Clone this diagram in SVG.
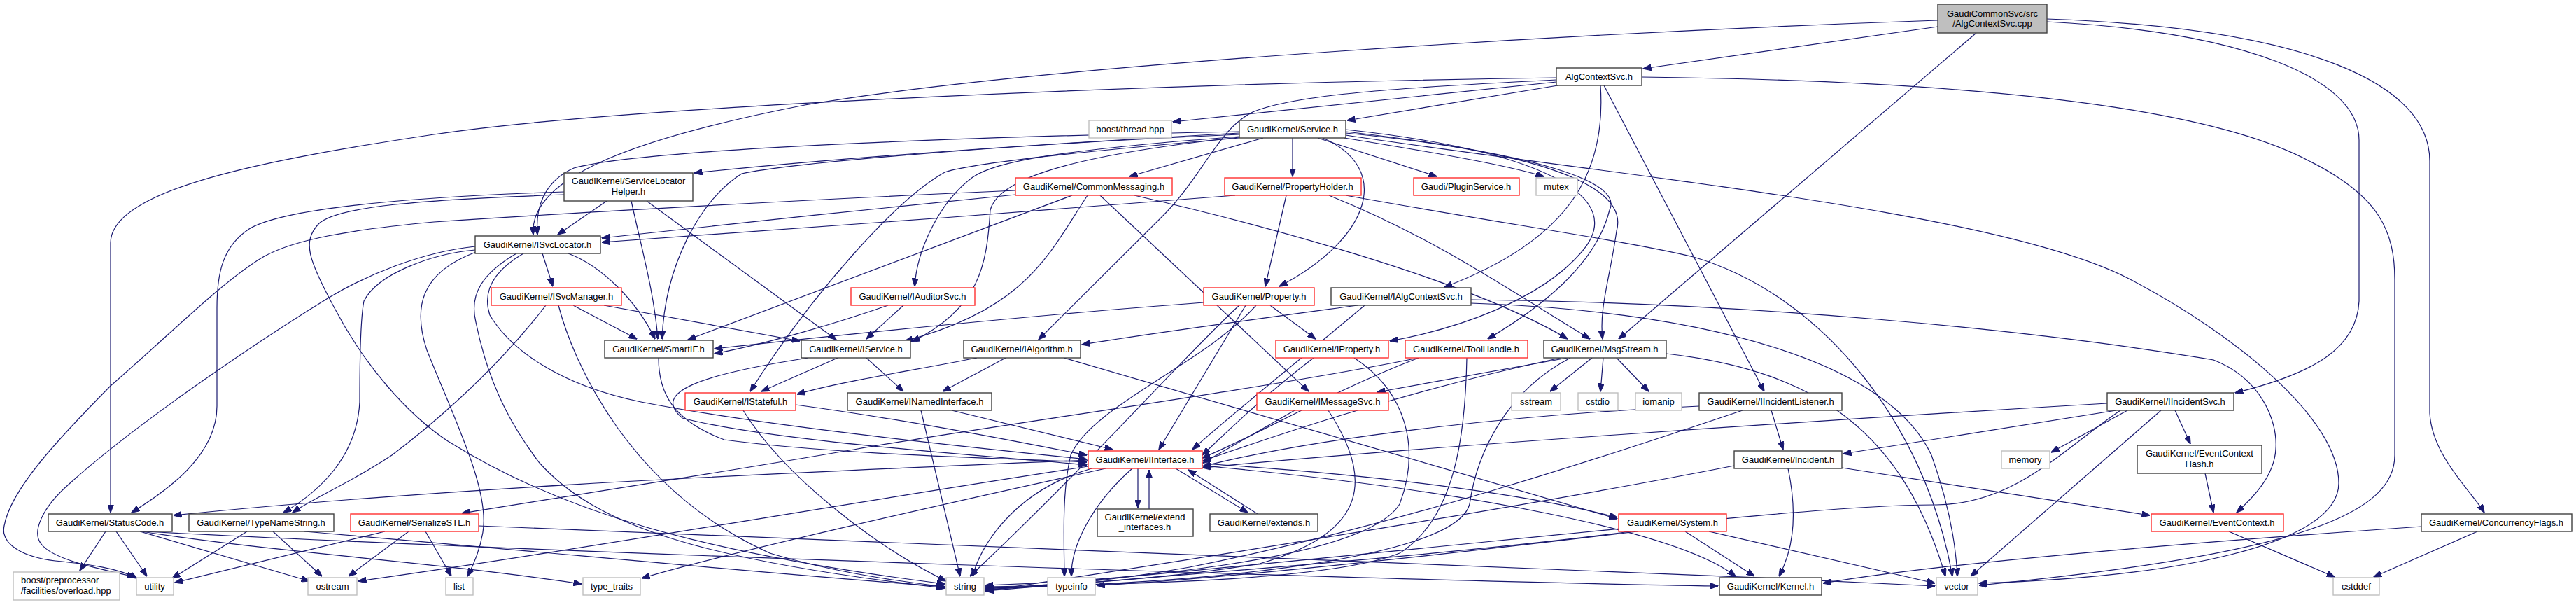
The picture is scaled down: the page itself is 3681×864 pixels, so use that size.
<svg xmlns="http://www.w3.org/2000/svg" width="3681" height="864" viewBox="0 0 3681 864">
<style>
.n rect{fill:#fff;stroke:#404040;stroke-width:1.4}
.r rect{stroke:#ff3030}
.g rect{stroke:#bfbfbf}
.m rect{fill:#bfbfbf;stroke:#404040}
text{font-family:"Liberation Sans",Arial,sans-serif;font-size:13px;text-anchor:middle;fill:#000}
.l text{text-anchor:start}
#edges path{fill:none;stroke:#191970;stroke-width:1.2;marker-end:url(#a)}
</style>
<defs>
<marker id="a" markerWidth="12" markerHeight="9" refX="11.5" refY="4.5" orient="auto" markerUnits="userSpaceOnUse"><path d="M0,0 L12,4.5 L0,9 z" fill="#191970" stroke="#191970"/></marker>
</defs>
<rect width="3681" height="864" fill="#fff"/>
<g id="edges">
<path d="M2769,38 L2348,98"/>
<path d="M2769,29 C2300,45 1500,90 1150,150 C920,195 755,250 762,335"/>
<path d="M2824,47 L2313,484"/>
<path d="M2925,31 C3200,45 3371,110 3371,200 L3371,430 C3368,500 3300,535 3194,561"/>
<path d="M2925,27 C3300,40 3472,120 3472,230 L3472,590 C3475,650 3530,700 3550,732"/>
<path d="M2226,122 L1925,172"/>
<path d="M2224,117 L1676,174"/>
<path d="M2224,111 C1700,118 900,150 620,192 C380,228 158,270 158,347 L158,732"/>
<path d="M2287,122 C2295,240 2250,340 2064,410"/>
<path d="M2292,122 L2521,559"/>
<path d="M2346,110 C2800,115 3150,150 3300,230 C3400,280 3422,330 3422,400 L3422,650 C3422,730 3300,790 2828,836"/>
<path d="M2224,114 C2000,125 1850,135 1790,160 C1740,185 1720,250 1660,310 L1484,485"/>
<path d="M1847,197 L1847,252"/>
<path d="M1883,197 L2053,252"/>
<path d="M1921,197 C2050,218 2150,235 2206,252"/>
<path d="M1890,197 C1990,240 1960,340 1828,409"/>
<path d="M1805,197 L1614,252"/>
<path d="M1771,190 C1500,205 1200,225 992,247"/>
<path d="M1771,188 C1400,195 920,212 820,240 C775,260 765,300 768,335"/>
<path d="M1771,192 C1400,208 1120,235 1060,248 C1000,285 950,380 946,484"/>
<path d="M1771,195 C1500,215 1420,232 1390,253 C1340,290 1310,360 1307,409"/>
<path d="M1771,196 C1500,225 1425,262 1415,300 C1410,380 1400,440 1303,488"/>
<path d="M1771,197 C1500,220 1380,236 1350,246 C1280,285 1160,420 1072,559"/>
<path d="M1923,185 C2200,215 2330,280 2260,360 C2200,430 2080,470 1986,487"/>
<path d="M1923,188 C2200,220 2320,260 2300,300 C2280,380 2200,440 2126,484"/>
<path d="M1923,190 C2180,215 2330,260 2310,330 C2300,400 2285,440 2290,484"/>
<path d="M1923,193 C2300,250 2850,300 3040,397 C3200,480 3342,600 3342,690 C3342,780 3100,825 2828,833"/>
<path d="M867,287 L797,335"/>
<path d="M806,274 C560,282 400,300 356,327 C318,352 310,390 310,440 L310,580 C310,650 240,700 188,732"/>
<path d="M806,278 C600,285 480,295 455,320 C432,345 440,370 478,440 C520,520 580,590 640,630 C800,730 1000,790 1350,834"/>
<path d="M902,287 C918,360 935,420 940,484"/>
<path d="M924,287 L1195,485"/>
<path d="M1451,272 C1150,285 800,305 620,317 C500,328 420,342 376,367 C320,400 240,480 158,551 C80,630 15,700 6,751 C0,778 35,796 79,801 C130,806 170,812 196,826"/>
<path d="M1532,279 L983,485"/>
<path d="M1554,279 C1500,360 1470,440 1293,487"/>
<path d="M1572,279 L1870,559"/>
<path d="M1621,279 C1800,320 2100,400 2240,484"/>
<path d="M1451,278 C1300,292 1000,325 860,340"/>
<path d="M1838,279 L1808,409"/>
<path d="M1765,279 C1500,300 1100,330 860,346"/>
<path d="M1899,279 C2050,340 2150,410 2272,484"/>
<path d="M1923,279 C2150,320 2330,345 2420,367 C2600,420 2750,600 2790,823"/>
<path d="M775,362 L790,409"/>
<path d="M812,362 C860,380 910,430 936,484"/>
<path d="M679,357 C620,362 540,390 520,430 C514,460 514,540 514,574 C510,650 460,700 405,732"/>
<path d="M680,360 C600,390 590,440 610,500 C650,600 700,700 690,760 C685,790 675,810 668,823"/>
<path d="M679,352 C600,360 520,395 470,425 C380,480 200,600 99,691 C60,725 45,760 59,777 C75,798 130,810 193,824"/>
<path d="M738,362 C690,390 670,420 680,460 C700,560 740,620 770,660 C850,750 1000,800 1350,840"/>
<path d="M748,362 C700,390 690,420 700,450 C730,500 800,550 916,574 C1100,610 1400,640 1553,656"/>
<path d="M819,436 L910,484"/>
<path d="M780,436 C700,540 600,620 560,650 C500,690 450,710 418,732"/>
<path d="M863,436 L1143,487"/>
<path d="M798,436 C820,520 900,700 1100,790 C1200,820 1300,832 1350,838"/>
<path d="M1291,436 L1238,484"/>
<path d="M1269,436 C1200,460 1100,490 1021,505"/>
<path d="M1815,436 L1880,484"/>
<path d="M1720,432 C1500,448 1200,478 1021,498"/>
<path d="M1771,436 C1700,500 1560,660 1386,823"/>
<path d="M1780,436 L1656,642"/>
<path d="M1795,436 C1720,520 1560,580 1530,650 C1518,700 1520,760 1521,823"/>
<path d="M1940,436 C1800,455 1650,475 1546,492"/>
<path d="M1950,436 C1850,520 1750,600 1704,642"/>
<path d="M2102,428 C2500,432 2900,470 3163,514 C3230,540 3255,600 3252,641 C3250,680 3220,710 3196,732"/>
<path d="M2102,433 C2450,445 2700,520 2760,650 C2785,720 2795,780 2797,823"/>
<path d="M941,511 C941,560 960,600 1035,628 C1200,650 1450,655 1553,660"/>
<path d="M1197,511 L1088,559"/>
<path d="M1238,511 L1291,559"/>
<path d="M1155,511 C1000,535 930,560 975,597 C1100,630 1400,650 1553,664"/>
<path d="M1437,511 L1347,559"/>
<path d="M1396,511 C1300,530 1200,545 1139,563"/>
<path d="M1520,511 L2311,741"/>
<path d="M1877,511 C1800,570 1750,620 1718,650"/>
<path d="M1935,511 C2010,560 2030,640 2000,720 C1950,800 1600,830 1408,836"/>
<path d="M2027,511 C1900,560 1800,620 1718,654"/>
<path d="M2096,511 C2094,620 2080,740 2000,790 C1900,830 1600,835 1408,838"/>
<path d="M2027,511 C1800,557 1400,610 1220,642 C1000,680 800,710 660,733"/>
<path d="M2275,511 L2215,559"/>
<path d="M2291,511 L2287,559"/>
<path d="M2310,511 L2356,559"/>
<path d="M2240,511 L1968,560"/>
<path d="M2230,511 C2000,560 1800,630 1719,658"/>
<path d="M2244,511 C2150,560 2110,650 2100,720 C2080,800 1700,835 1408,840"/>
<path d="M2381,505 C2600,530 2720,620 2780,823"/>
<path d="M1850,586 L1719,661"/>
<path d="M1898,586 C1960,680 1960,760 1800,805 C1650,830 1500,835 1408,841"/>
<path d="M1137,578 C1300,600 1450,630 1553,650"/>
<path d="M1062,586 C1120,680 1250,780 1352,830"/>
<path d="M1360,586 L1590,642"/>
<path d="M1316,586 L1372,823"/>
<path d="M2428,580 C2200,590 1900,620 1719,666"/>
<path d="M2531,586 L2548,642"/>
<path d="M2490,586 C2300,650 2000,750 1700,810 C1600,828 1500,838 1408,842"/>
<path d="M3024,586 L2634,648"/>
<path d="M3040,586 L2931,646"/>
<path d="M3088,586 L2816,823"/>
<path d="M3108,586 L3130,634"/>
<path d="M3011,576 C2600,600 2000,640 1719,668"/>
<path d="M3030,586 C2950,640 2880,720 2767,721 C2600,720 2200,770 1408,843"/>
<path d="M1555,657 C1000,680 600,700 248,736"/>
<path d="M1626,669 L1626,725"/>
<path d="M1642,727 L1642,671"/>
<path d="M1680,669 L1783,732"/>
<path d="M1797,734 L1698,671"/>
<path d="M1560,669 C1450,700 1400,780 1390,823"/>
<path d="M1618,669 C1560,720 1530,780 1531,823"/>
<path d="M1580,669 C1300,730 1000,800 917,826"/>
<path d="M1555,666 C1200,720 800,790 512,830"/>
<path d="M1718,662 C2000,680 2200,710 2311,739"/>
<path d="M1718,665 C2100,700 2400,760 2480,823"/>
<path d="M2555,669 C2570,740 2560,790 2542,823"/>
<path d="M2632,668 L3072,736"/>
<path d="M2478,665 C2200,720 1700,800 1408,844"/>
<path d="M3151,676 L3163,732"/>
<path d="M3185,759 L3336,824"/>
<path d="M3540,759 L3392,824"/>
<path d="M3460,752 C3200,770 2800,800 2605,833"/>
<path d="M151,759 L114,815"/>
<path d="M166,759 L210,823"/>
<path d="M200,759 L442,830"/>
<path d="M202,759 C400,790 600,800 831,834"/>
<path d="M205,759 C800,790 2000,830 2455,837"/>
<path d="M353,759 L246,826"/>
<path d="M390,759 L460,823"/>
<path d="M435,759 C800,790 1100,820 1350,838"/>
<path d="M584,759 L498,823"/>
<path d="M550,759 L250,832"/>
<path d="M608,759 L645,823"/>
<path d="M684,751 C1200,770 2000,800 2765,837"/>
<path d="M2408,759 L2507,823"/>
<path d="M2442,759 L2765,833"/>
<path d="M2330,759 C2100,790 1700,820 1408,844"/>
<path d="M2340,759 C2000,800 1700,830 1567,836"/>
</g>
<g id="n_cpp" class="n m"><rect x="2769" y="6" width="156" height="41"/><text x="2847" y="24">GaudiCommonSvc/src</text><text x="2847" y="38">/AlgContextSvc.cpp</text></g>
<g id="n_acs" class="n"><rect x="2224" y="97" width="122" height="25"/><text x="2285" y="114">AlgContextSvc.h</text></g>
<g id="n_bth" class="n g"><rect x="1556" y="172" width="118" height="25"/><text x="1615" y="189">boost/thread.hpp</text></g>
<g id="n_svc" class="n"><rect x="1771" y="172" width="152" height="25"/><text x="1847" y="189">GaudiKernel/Service.h</text></g>
<g id="n_slh" class="n"><rect x="806" y="247" width="184" height="40"/><text x="898" y="263">GaudiKernel/ServiceLocator</text><text x="898" y="278">Helper.h</text></g>
<g id="n_cm" class="n r"><rect x="1451" y="254" width="224" height="25"/><text x="1563" y="271">GaudiKernel/CommonMessaging.h</text></g>
<g id="n_ph" class="n r"><rect x="1750" y="254" width="195" height="25"/><text x="1847" y="271">GaudiKernel/PropertyHolder.h</text></g>
<g id="n_ps" class="n r"><rect x="2020" y="254" width="151" height="25"/><text x="2095" y="271">Gaudi/PluginService.h</text></g>
<g id="n_mtx" class="n g"><rect x="2195" y="254" width="59" height="25"/><text x="2224" y="271">mutex</text></g>
<g id="n_isl" class="n"><rect x="679" y="337" width="179" height="25"/><text x="768" y="354">GaudiKernel/ISvcLocator.h</text></g>
<g id="n_ism" class="n r"><rect x="702" y="411" width="186" height="25"/><text x="795" y="428">GaudiKernel/ISvcManager.h</text></g>
<g id="n_ias" class="n r"><rect x="1216" y="411" width="177" height="25"/><text x="1304" y="428">GaudiKernel/IAuditorSvc.h</text></g>
<g id="n_prop" class="n r"><rect x="1720" y="411" width="158" height="25"/><text x="1799" y="428">GaudiKernel/Property.h</text></g>
<g id="n_iacs" class="n"><rect x="1902" y="411" width="200" height="25"/><text x="2002" y="428">GaudiKernel/IAlgContextSvc.h</text></g>
<g id="n_sif" class="n"><rect x="864" y="486" width="155" height="25"/><text x="941" y="503">GaudiKernel/SmartIF.h</text></g>
<g id="n_isv" class="n"><rect x="1145" y="486" width="156" height="25"/><text x="1223" y="503">GaudiKernel/IService.h</text></g>
<g id="n_ialg" class="n"><rect x="1377" y="486" width="167" height="25"/><text x="1460" y="503">GaudiKernel/IAlgorithm.h</text></g>
<g id="n_iprop" class="n r"><rect x="1823" y="486" width="161" height="25"/><text x="1903" y="503">GaudiKernel/IProperty.h</text></g>
<g id="n_th" class="n r"><rect x="2008" y="486" width="175" height="25"/><text x="2095" y="503">GaudiKernel/ToolHandle.h</text></g>
<g id="n_msg" class="n"><rect x="2206" y="486" width="175" height="25"/><text x="2293" y="503">GaudiKernel/MsgStream.h</text></g>
<g id="n_ist" class="n r"><rect x="979" y="561" width="158" height="25"/><text x="1058" y="578">GaudiKernel/IStateful.h</text></g>
<g id="n_ini" class="n"><rect x="1211" y="561" width="206" height="25"/><text x="1314" y="578">GaudiKernel/INamedInterface.h</text></g>
<g id="n_ims" class="n r"><rect x="1796" y="561" width="188" height="25"/><text x="1890" y="578">GaudiKernel/IMessageSvc.h</text></g>
<g id="n_sst" class="n g"><rect x="2160" y="561" width="70" height="25"/><text x="2195" y="578">sstream</text></g>
<g id="n_cio" class="n g"><rect x="2255" y="561" width="57" height="25"/><text x="2283" y="578">cstdio</text></g>
<g id="n_iom" class="n g"><rect x="2337" y="561" width="66" height="25"/><text x="2370" y="578">iomanip</text></g>
<g id="n_iil" class="n"><rect x="2428" y="561" width="204" height="25"/><text x="2530" y="578">GaudiKernel/IIncidentListener.h</text></g>
<g id="n_iis" class="n"><rect x="3011" y="561" width="181" height="25"/><text x="3101" y="578">GaudiKernel/IIncidentSvc.h</text></g>
<g id="n_iif" class="n r"><rect x="1555" y="644" width="163" height="25"/><text x="1636" y="661">GaudiKernel/IInterface.h</text></g>
<g id="n_inc" class="n"><rect x="2478" y="644" width="154" height="25"/><text x="2555" y="661">GaudiKernel/Incident.h</text></g>
<g id="n_mem" class="n g"><rect x="2860" y="644" width="69" height="25"/><text x="2894" y="661">memory</text></g>
<g id="n_ech" class="n"><rect x="3054" y="636" width="178" height="40"/><text x="3143" y="652">GaudiKernel/EventContext</text><text x="3143" y="667">Hash.h</text></g>
<g id="n_sc" class="n"><rect x="69" y="734" width="177" height="25"/><text x="157" y="751">GaudiKernel/StatusCode.h</text></g>
<g id="n_tns" class="n"><rect x="270" y="734" width="207" height="25"/><text x="373" y="751">GaudiKernel/TypeNameString.h</text></g>
<g id="n_ser" class="n r"><rect x="501" y="734" width="183" height="25"/><text x="592" y="751">GaudiKernel/SerializeSTL.h</text></g>
<g id="n_ext" class="n"><rect x="1568" y="727" width="137" height="39"/><text x="1636" y="743">GaudiKernel/extend</text><text x="1636" y="757">_interfaces.h</text></g>
<g id="n_exs" class="n"><rect x="1729" y="734" width="154" height="25"/><text x="1806" y="751">GaudiKernel/extends.h</text></g>
<g id="n_sys" class="n r"><rect x="2313" y="734" width="154" height="25"/><text x="2390" y="751">GaudiKernel/System.h</text></g>
<g id="n_ec" class="n r"><rect x="3074" y="734" width="189" height="25"/><text x="3168" y="751">GaudiKernel/EventContext.h</text></g>
<g id="n_cf" class="n"><rect x="3460" y="734" width="215" height="25"/><text x="3567" y="751">GaudiKernel/ConcurrencyFlags.h</text></g>
<g id="n_bpp" class="n g l"><rect x="19" y="817" width="152" height="40"/><text x="30" y="833">boost/preprocessor</text><text x="30" y="848">/facilities/overload.hpp</text></g>
<g id="n_uti" class="n g"><rect x="195" y="825" width="53" height="25"/><text x="221" y="842">utility</text></g>
<g id="n_ost" class="n g"><rect x="440" y="825" width="70" height="25"/><text x="475" y="842">ostream</text></g>
<g id="n_lst" class="n g"><rect x="637" y="825" width="39" height="25"/><text x="656" y="842">list</text></g>
<g id="n_tt" class="n g"><rect x="833" y="825" width="82" height="25"/><text x="874" y="842">type_traits</text></g>
<g id="n_str" class="n g"><rect x="1352" y="825" width="54" height="25"/><text x="1379" y="842">string</text></g>
<g id="n_tyi" class="n g"><rect x="1497" y="825" width="68" height="25"/><text x="1531" y="842">typeinfo</text></g>
<g id="n_ker" class="n"><rect x="2457" y="825" width="146" height="25"/><text x="2530" y="842">GaudiKernel/Kernel.h</text></g>
<g id="n_vec" class="n g"><rect x="2767" y="825" width="59" height="25"/><text x="2796" y="842">vector</text></g>
<g id="n_csd" class="n g"><rect x="3334" y="825" width="66" height="25"/><text x="3367" y="842">cstddef</text></g>
</svg>
